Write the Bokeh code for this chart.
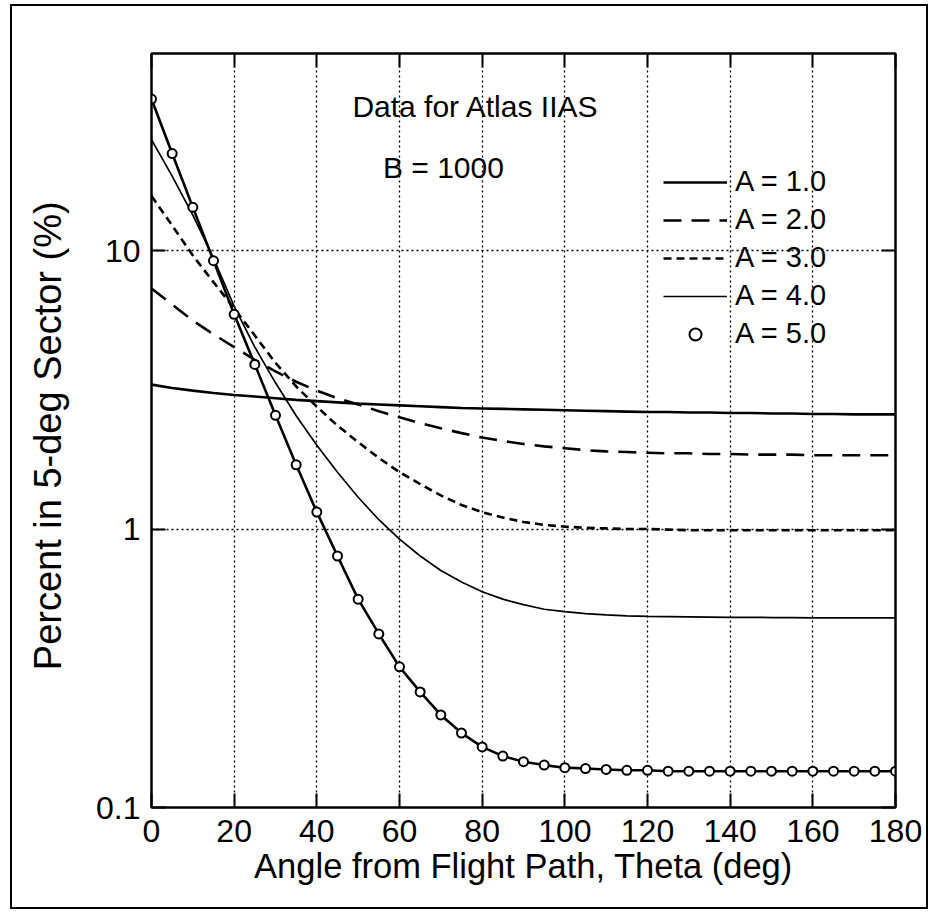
from bokeh.plotting import figure
from bokeh.models import (Range1d, FixedTicker, LinearAxis, LogAxis, Legend,
                          LegendItem, Label, CustomJSTickFormatter)
from bokeh.embed import file_html
from bokeh.resources import INLINE

# ---------------- data ----------------
theta = [0, 5, 10, 15, 20, 25, 30, 35, 40, 45, 50, 55, 60, 65, 70, 75, 80, 85, 90,
         95, 100, 105, 110, 115, 120, 125, 130, 135, 140, 145, 150, 155, 160, 165,
         170, 175, 180]

a1 = [3.30, 3.21, 3.14, 3.08, 3.03, 2.99, 2.95, 2.91, 2.88, 2.85, 2.82, 2.80, 2.78,
      2.76, 2.74, 2.72, 2.71, 2.70, 2.69, 2.68, 2.67, 2.66, 2.65, 2.64, 2.63, 2.63,
      2.62, 2.62, 2.61, 2.61, 2.60, 2.60, 2.59, 2.59, 2.58, 2.58, 2.58]

a2 = [7.30, 6.40, 5.60, 5.00, 4.50, 4.05, 3.68, 3.38, 3.14, 2.95, 2.80, 2.65, 2.52,
      2.40, 2.30, 2.21, 2.13, 2.07, 2.02, 1.98, 1.95, 1.92, 1.90, 1.89, 1.88, 1.87,
      1.87, 1.86, 1.86, 1.85, 1.85, 1.85, 1.84, 1.84, 1.84, 1.84, 1.84]

a3 = [15.7, 12.3, 9.6, 7.7, 6.2, 4.95, 3.95, 3.25, 2.75, 2.35, 2.05, 1.80, 1.60,
      1.45, 1.32, 1.22, 1.15, 1.10, 1.06, 1.035, 1.02, 1.01, 1.005, 1.0, 1.0, 0.995,
      0.99, 0.99, 0.99, 0.99, 0.99, 0.99, 0.99, 0.99, 0.99, 0.99, 0.99]

a4 = [25.0, 18.5, 13.4, 9.4, 6.3, 4.5, 3.35, 2.55, 2.0, 1.6, 1.3, 1.08, 0.92, 0.80,
      0.71, 0.645, 0.595, 0.56, 0.535, 0.515, 0.505, 0.497, 0.492, 0.488, 0.486,
      0.485, 0.484, 0.483, 0.482, 0.482, 0.481, 0.481, 0.48, 0.48, 0.48, 0.48, 0.48]

a5 = [35.0, 22.3, 14.3, 9.2, 5.9, 3.9, 2.56, 1.70, 1.15, 0.80, 0.56, 0.42, 0.32,
      0.26, 0.215, 0.185, 0.165, 0.153, 0.146, 0.142, 0.139, 0.138, 0.137, 0.136,
      0.136, 0.135, 0.135, 0.135, 0.135, 0.135, 0.135, 0.135, 0.135, 0.135, 0.135,
      0.135, 0.135]

series_names = ["A = 1.0", "A = 2.0", "A = 3.0", "A = 4.0", "A = 5.0"]
x_ticks = [0, 20, 40, 60, 80, 100, 120, 140, 160, 180]
y_ticks = [0.1, 1, 10]
title1 = "Data for Atlas IIAS"
title2 = "B = 1000"
x_title = "Angle from Flight Path, Theta (deg)"
y_title = "Percent  in 5-deg Sector (%)"

# ---------------- styling ----------------
FONT = "Liberation Sans"

p = figure(frame_width=744, frame_height=754, y_axis_type="log",
           x_range=Range1d(0, 180), y_range=Range1d(0.1, 51),
           output_backend="svg", toolbar_location=None,
           min_border_left=139, min_border_top=47, min_border_right=31,
           min_border_bottom=100)
p.styles = {"border": "2px solid black", "margin-left": "10px",
            "margin-top": "4px"}
p.background_fill_color = "white"
p.border_fill_color = "white"
p.outline_line_color = "black"
p.outline_line_width = 2

empty = CustomJSTickFormatter(code="return ''")

# bottom x axis
p.xaxis.ticker = FixedTicker(ticks=x_ticks)
p.xaxis.major_tick_in = 14
p.xaxis.major_tick_out = 0
p.xaxis.minor_tick_line_color = None
p.xaxis.axis_line_width = 2
p.xaxis.major_tick_line_width = 2
p.xaxis.major_label_text_font = FONT
p.xaxis.major_label_text_font_size = "32px"
p.xaxis.major_label_text_color = "black"
p.xaxis.major_label_standoff = 12
p.xaxis.axis_label = x_title
p.xaxis.axis_label_text_font = FONT
p.xaxis.axis_label_text_font_size = "34.5px"
p.xaxis.axis_label_text_font_style = "normal"
p.xaxis.axis_label_text_color = "black"
p.xaxis.axis_label_standoff = 2

# left y axis
p.yaxis.ticker = FixedTicker(ticks=y_ticks)
p.yaxis.formatter = CustomJSTickFormatter(
    code="return tick >= 1 ? tick.toFixed(0) : tick.toFixed(1);")
p.yaxis.major_tick_in = 14
p.yaxis.major_tick_out = 0
p.yaxis.minor_tick_line_color = None
p.yaxis.axis_line_width = 2
p.yaxis.major_tick_line_width = 2
p.yaxis.major_label_text_font = FONT
p.yaxis.major_label_text_font_size = "32px"
p.yaxis.major_label_text_color = "black"
p.yaxis.major_label_standoff = 11
p.yaxis.axis_label = y_title
p.yaxis.axis_label_text_font = FONT
p.yaxis.axis_label_text_font_size = "38px"
p.yaxis.axis_label_text_font_style = "normal"
p.yaxis.axis_label_text_color = "black"
p.yaxis.axis_label_standoff = 24

# top / right axes (ticks only)
top = LinearAxis(ticker=FixedTicker(ticks=x_ticks), formatter=empty,
                 major_tick_in=14, major_tick_out=0, major_tick_line_width=2,
                 minor_tick_line_color=None, axis_line_width=2,
                 major_label_text_font_size="0px", major_label_standoff=0)
right = LogAxis(ticker=FixedTicker(ticks=y_ticks), formatter=empty,
                major_tick_in=14, major_tick_out=0, major_tick_line_width=2,
                minor_tick_line_color=None, axis_line_width=2,
                major_label_text_font_size="0px", major_label_standoff=0)
p.add_layout(top, "above")
p.add_layout(right, "right")

# grid
p.xgrid.ticker = FixedTicker(ticks=x_ticks)
p.ygrid.ticker = FixedTicker(ticks=y_ticks)
for g in (p.xgrid, p.ygrid):
    g.grid_line_color = "black"
    g.grid_line_dash = "2 3"
    g.grid_line_width = 1.3
    g.minor_grid_line_color = None

# ---------------- series ----------------
r1 = p.line(theta, a1, line_color="black", line_width=2.6)
r2 = p.line(theta, a2, line_color="black", line_width=2.6, line_dash="18 10")
r3 = p.line(theta, a3, line_color="black", line_width=2.6, line_dash="8 5")
r4 = p.line(theta, a4, line_color="black", line_width=1.7)
r5 = p.line(theta, a5, line_color="black", line_width=2.6)
r5c = p.scatter(theta, a5, size=9, marker="circle", fill_color="white",
                line_color="black", line_width=2)

legend = Legend(items=[
    LegendItem(label=series_names[0], renderers=[r1]),
    LegendItem(label=series_names[1], renderers=[r2]),
    LegendItem(label=series_names[2], renderers=[r3]),
    LegendItem(label=series_names[3], renderers=[r4]),
    LegendItem(label=series_names[4], renderers=[r5c]),
], location=(512, 457), background_fill_alpha=0, border_line_color=None,
   label_text_font=FONT, label_text_font_size="29px", label_text_color="black",
   glyph_width=64, glyph_height=30, label_height=30, spacing=5,
   padding=0, margin=0, label_standoff=8)
p.add_layout(legend)

p.add_layout(Label(x=48.6, y=33, text=title1, text_font=FONT,
                   text_font_size="30px", text_baseline="middle",
                   text_align="left", text_color="black"))
p.add_layout(Label(x=56, y=19.9, text=title2, text_font=FONT,
                   text_font_size="30px", text_baseline="middle",
                   text_align="left", text_color="black"))

open("out.html", "w").write(file_html(p, INLINE))
